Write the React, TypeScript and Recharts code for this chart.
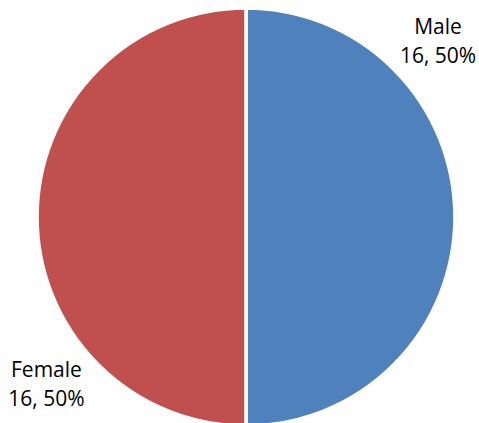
import React from 'react';
import { PieChart, Pie, Cell } from 'recharts';

const categories = ['Male', 'Female'];
const values = [16, 16];
const colors = ['#4F81BD', '#C0504D'];

const data = categories.map((name, i) => ({ name, value: values[i] }));
const total = values.reduce((a, b) => a + b, 0);

// best-fit label placement: angle offset (deg) from slice mid-angle
const labelAngleOffset: Record<string, number> = { Male: 42.5, Female: 40 };

const RAD = Math.PI / 180;

const renderLabel = (props: any) => {
  const { cx, cy, midAngle, outerRadius, name, value } = props;
  const ang = (midAngle + (labelAngleOffset[name] ?? 41)) * RAD;
  const r = outerRadius + 51.5;
  const x = cx + r * Math.cos(ang);
  const y = cy - r * Math.sin(ang);
  const pct = Math.round((value / total) * 100);
  return (
    <text
      x={x}
      y={y}
      textAnchor="middle"
      fill="#000"
      fontFamily="'Open Sans', sans-serif"
      fontSize={21}
    >
      <tspan x={x} y={y - 7.5}>{name}</tspan>
      <tspan x={x} dy={29.5}>{`${value}, ${pct}%`}</tspan>
    </text>
  );
};

export default function App() {
  return (
    <div style={{ position: 'absolute', left: 0, top: 0, width: 479, height: 423, background: '#fff' }}>
      <PieChart width={479} height={423} margin={{ top: 0, right: 0, bottom: 0, left: 0 }}>
        <Pie
          data={data}
          dataKey="value"
          nameKey="name"
          cx={246}
          cy={217}
          outerRadius={209}
          startAngle={90}
          endAngle={-270}
          stroke="#fff"
          strokeWidth={3.5}
          label={renderLabel}
          labelLine={false}
          isAnimationActive={false}
        >
          {data.map((d, i) => (
            <Cell key={d.name} fill={colors[i]} />
          ))}
        </Pie>
      </PieChart>
    </div>
  );
}
